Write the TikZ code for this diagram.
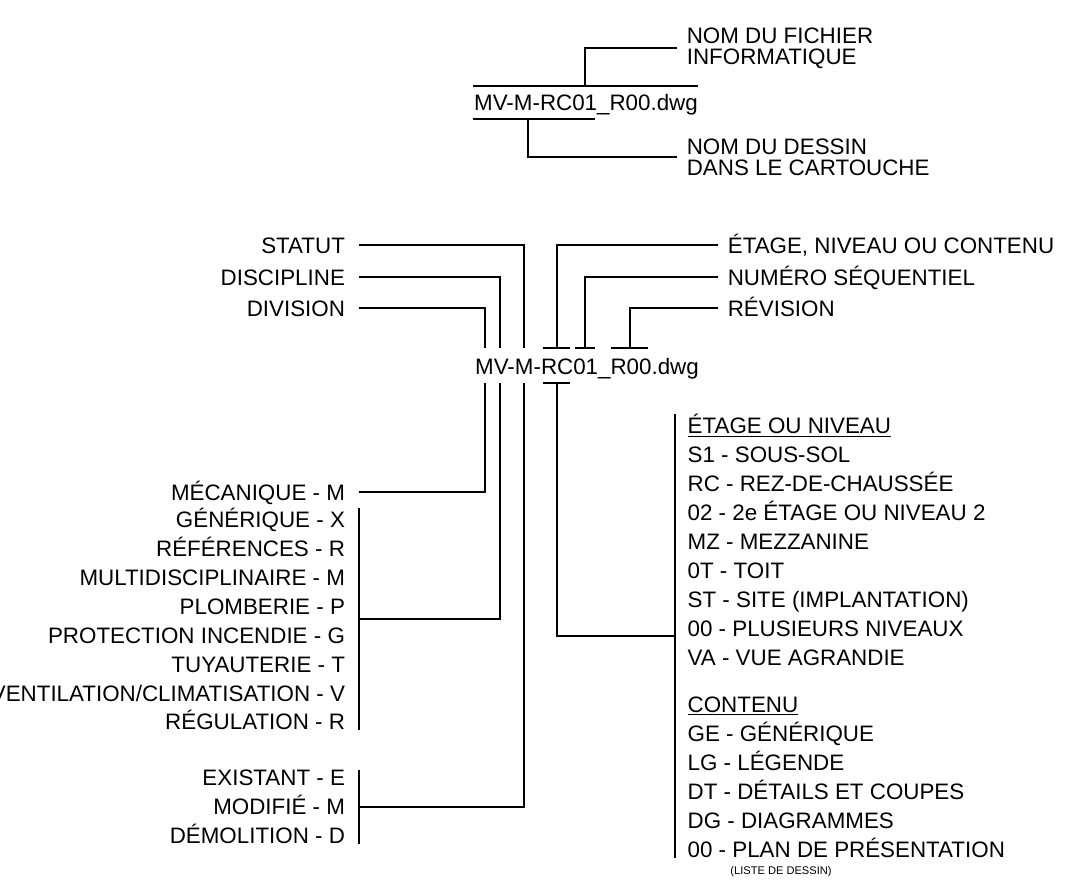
\documentclass[tikz,border=0pt]{standalone}
\usepackage{fontspec}
\setmainfont{Liberation Sans}
\newcommand{\lbl}{\fontsize{15.9}{20.6}\selectfont}

\begin{document}
\begin{tikzpicture}[x=0.025cm, y=-0.025cm,
  every node/.style={font=\lbl, inner sep=0pt},
  wire/.style={line width=1.3pt},
  leftlabel/.style={anchor=east, outer xsep=10pt, text height=11.4pt, text depth=0pt},
  rightlabel/.style={anchor=west, outer xsep=7pt, text height=11.4pt, text depth=0pt},
  leftlist/.style={anchor=east, outer xsep=10pt, align=right},
  rightlist/.style={anchor=west, outer xsep=9pt, align=left},
  namelabel/.style={anchor=west, outer xsep=7pt, align=left, font=\fontsize{15.9}{15}\selectfont}]

\useasboundingbox (0,0) rectangle (1082,891);

% file name and drawing name
\node (nomfichier) [anchor=base] at (586,111) {MV-M-RC01\_R00.dwg};
\node (fichier) [namelabel] at (677,48) {NOM DU FICHIER\\INFORMATIQUE};
\node (dessin) [namelabel] at (677,157) {NOM DU DESSIN\\DANS LE CARTOUCHE};

\coordinate (fichier-l) at (473,86);
\coordinate (fichier-r) at (698,86);
\coordinate (fichier-stem) at (585,86);
\coordinate (dessin-l) at (473,119);
\coordinate (dessin-r) at (595,119);
\coordinate (dessin-stem) at (528,119);

\draw[wire] (fichier-l) -- (fichier-r);
\draw[wire] (dessin-l) -- (dessin-r);
\draw[wire] (fichier) -| (fichier-stem);
\draw[wire] (dessin) -| (dessin-stem);

% code breakdown
\node (code) [anchor=base] at (587,375) {MV-M-RC01\_R00.dwg};

\node (statut) [leftlabel] at (359,245) {STATUT};
\node (discipline) [leftlabel] at (359,277) {DISCIPLINE};
\node (division) [leftlabel] at (359,308) {DIVISION};
\node (etage) [rightlabel] at (718,245) {ÉTAGE, NIVEAU OU CONTENU};
\node (numero) [rightlabel] at (718,277) {NUMÉRO SÉQUENTIEL};
\node (revision) [rightlabel] at (718,308) {RÉVISION};

\coordinate (statut-top) at (524,348);
\coordinate (disc-top) at (500,348);
\coordinate (div-top) at (485,348);
\coordinate (etage-top) at (557,348);
\coordinate (numero-top) at (585,348);
\coordinate (revision-top) at (630,348);
\coordinate (statut-bot) at (524,383);
\coordinate (disc-bot) at (500,383);
\coordinate (div-bot) at (485,383);
\coordinate (etage-bot) at (557,383);

\draw[wire] (statut) -| (statut-top);
\draw[wire] (discipline) -| (disc-top);
\draw[wire] (division) -| (div-top);
\draw[wire] (etage) -| (etage-top);
\draw[wire] (numero) -| (numero-top);
\draw[wire] (revision) -| (revision-top);

\draw[wire] (etage-top) ++(-14,0) -- ++(27,0);
\draw[wire] (numero-top) ++(-10,0) -- ++(20,0);
\draw[wire] (revision-top) ++(-19,0) -- ++(37,0);
\draw[wire] (etage-bot) ++(-14,0) -- ++(27,0);

% value lists
\node (mecanique) [leftlabel] at (359,492) {MÉCANIQUE - M};

\node (disclist) [leftlist] at (359,619)
{GÉNÉRIQUE - X\\RÉFÉRENCES - R\\MULTIDISCIPLINAIRE - M\\PLOMBERIE - P\\PROTECTION INCENDIE - G\\TUYAUTERIE - T\\VENTILATION/CLIMATISATION - V\\RÉGULATION - R};

\node (statlist) [leftlist] at (359,807)
{EXISTANT - E\\MODIFIÉ - M\\DÉMOLITION - D};

\node (codelist) [rightlist] at (675,636)
{\underline{ÉTAGE OU NIVEAU}\\S1 - SOUS-SOL\\RC - REZ-DE-CHAUSSÉE\\02 - 2e ÉTAGE OU NIVEAU 2\\MZ - MEZZANINE\\0T - TOIT\\ST - SITE (IMPLANTATION)\\00 - PLUSIEURS NIVEAUX\\VA - VUE AGRANDIE\\[12.8pt]\underline{CONTENU}\\GE - GÉNÉRIQUE\\LG - LÉGENDE\\DT - DÉTAILS ET COUPES\\DG - DIAGRAMMES\\00 - PLAN DE PRÉSENTATION};

\node (liste) [font=\fontsize{7.9}{9}\selectfont] at (781,872) {(LISTE DE DESSIN)};

\draw[wire] (disclist.north east) -- (disclist.south east);
\draw[wire] (statlist.north east) -- (statlist.south east);
\draw[wire] (codelist.north west) -- (codelist.south west);

\draw[wire] (div-bot) |- (mecanique);
\draw[wire] (disc-bot) |- (disclist);
\draw[wire] (statut-bot) |- (statlist);
\draw[wire] (etage-bot) |- (codelist);

\end{tikzpicture}
\end{document}
